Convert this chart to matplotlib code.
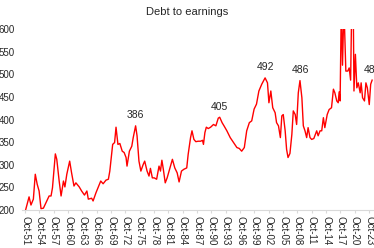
"""Debt to earnings -- quarterly ratio, Oct-51 onward, peaks labelled."""
import matplotlib

matplotlib.use("Agg")
import matplotlib.pyplot as plt
import numpy as np

plt.rcParams["font.family"] = ["Liberation Sans", "DejaVu Sans"]

# decimal year of each reading, and the ratio
dates = [
    1951.9, 1952.6, 1953.0, 1953.5, 1953.9, 1954.3, 1954.7, 1955.1, 1955.6, 1956.3,
    1956.8, 1957.2, 1957.5, 1958.1, 1958.4, 1958.9, 1959.3, 1959.8, 1960.1, 1960.5,
    1961.1, 1961.5, 1962.0, 1962.4, 1963.1, 1963.6, 1964.2, 1964.7, 1965.0, 1965.7,
    1966.0, 1966.6, 1967.6, 1968.1, 1968.7, 1969.2, 1969.5, 1970.1, 1970.5, 1970.8,
    1971.2, 1971.6, 1972.1, 1972.5, 1972.9, 1973.1, 1973.6, 1974.1, 1974.4, 1974.9,
    1975.2, 1975.6, 1976.0, 1976.5, 1976.8, 1977.3, 1977.7, 1978.0, 1978.4, 1978.8,
    1979.3, 1979.8, 1980.1, 1980.4, 1980.7, 1981.1, 1981.5, 1981.9, 1982.6, 1983.1,
    1983.6, 1984.0, 1984.5, 1985.0, 1985.6, 1985.9, 1986.4, 1986.7, 1987.1, 1987.5,
    1988.0, 1988.5, 1988.9, 1989.1, 1989.4, 1989.7, 1990.1, 1990.6, 1991.2, 1991.7,
    1992.2, 1992.5, 1993.0, 1993.4, 1994.0, 1994.7, 1995.4, 1996.1, 1996.6, 1997.1,
    1997.65, 1998.15, 1998.7, 1999.2, 1999.7, 2000.2, 2000.7, 2001.3, 2002.0, 2002.5,
    2002.8, 2003.2, 2003.6, 2004.1, 2004.4, 2004.8, 2005.2, 2005.5, 2005.8, 2006.2,
    2006.5, 2006.8, 2007.2, 2007.6, 2007.9, 2008.3, 2008.6, 2008.95, 2009.3, 2009.7,
    2010.0, 2010.35, 2010.7, 2011.0, 2011.4, 2011.75, 2012.2, 2012.8, 2013.1, 2013.5,
    2013.85, 2014.2, 2014.5, 2015.0, 2015.4, 2015.9, 2016.3, 2016.6, 2017.0, 2017.3,
    2017.5, 2017.7, 2017.95, 2018.2, 2018.5, 2018.9, 2019.3, 2019.6, 2019.9, 2020.2,
    2020.45, 2020.6, 2020.9, 2021.2, 2021.5, 2021.9, 2022.1, 2022.4, 2022.8, 2023.1,
    2023.4, 2023.8, 2024.1, 2024.4,
]
ratio = [
    201, 229, 211, 224, 279, 257, 242, 203, 204, 220,
    231, 231, 249, 324, 312, 264, 231, 264, 251, 279,
    308, 282, 253, 260, 251, 242, 233, 242, 224, 226,
    220, 238, 264, 258, 266, 268, 286, 345, 349, 383,
    345, 347, 330, 327, 316, 297, 330, 341, 360, 386,
    364, 308, 286, 301, 308, 286, 275, 292, 271, 271,
    268, 297, 286, 310, 290, 260, 271, 286, 312, 293,
    282, 262, 286, 290, 293, 323, 360, 375, 356, 351,
    352, 352, 354, 345, 371, 383, 380, 383, 389, 386,
    403, 405, 393, 386, 375, 360, 349, 338, 336, 330,
    338, 375, 393, 397, 423, 434, 463, 478, 492, 481,
    437, 463, 426, 415, 393, 386, 360, 408, 411, 375,
    334, 316, 325, 367, 419, 411, 389, 459, 486, 448,
    386, 375, 360, 382, 360, 356, 358, 375, 364, 375,
    375, 404, 382, 411, 422, 426, 467, 459, 441, 437,
    461, 441, 650, 520, 650, 507, 507, 514, 487, 700,
    650, 463, 544, 470, 481, 459, 481, 448, 441, 481,
    470, 433, 478, 487,
]

# labelled peaks
peak_dates = [1974.9, 1992.5, 2002.0, 2009.3, 2024.4]
peak_vals = [386, 405, 492, 486, 487]

tick_years = np.arange(1951.75, 2024, 3)
tick_labels = [f"Oct-{int(y) % 100:02d}" for y in tick_years]

fig = plt.figure(figsize=(3.74, 2.48), dpi=100)
ax = fig.add_axes([22 / 374, 1 - 210 / 248, 378 / 374, 181 / 248])

ax.plot(dates, ratio, color="#FF0000", lw=1.0)
for d, v in zip(peak_dates, peak_vals):
    ax.annotate(str(v), (d, v), xytext=(0, 4), textcoords="offset points",
                ha="center", va="bottom", fontsize=7.5, color="#262626")

ax.set_ylim(200, 600)
ax.set_yticks(range(200, 601, 50))
x0 = 1951.75 - 3 / 4.778
ax.set_xlim(x0, x0 + 378 / 4.778)
ax.set_xticks(tick_years)
ax.set_xticklabels(tick_labels, rotation=270, fontsize=7, color="#262626")
ax.tick_params(axis="y", length=0, pad=5, labelsize=7, labelcolor="#262626")
ax.tick_params(axis="x", length=2.5, color="#D9D9D9", width=0.8, pad=2)

for s in ("top", "right", "left"):
    ax.spines[s].set_visible(False)
ax.spines["bottom"].set_color("#D9D9D9")
ax.spines["bottom"].set_linewidth(0.8)

fig.text(0.5, 1 - 12 / 248, "Debt to earnings", ha="center", va="center",
         fontsize=8, color="#262626")

fig.savefig("out.png", dpi=100)
